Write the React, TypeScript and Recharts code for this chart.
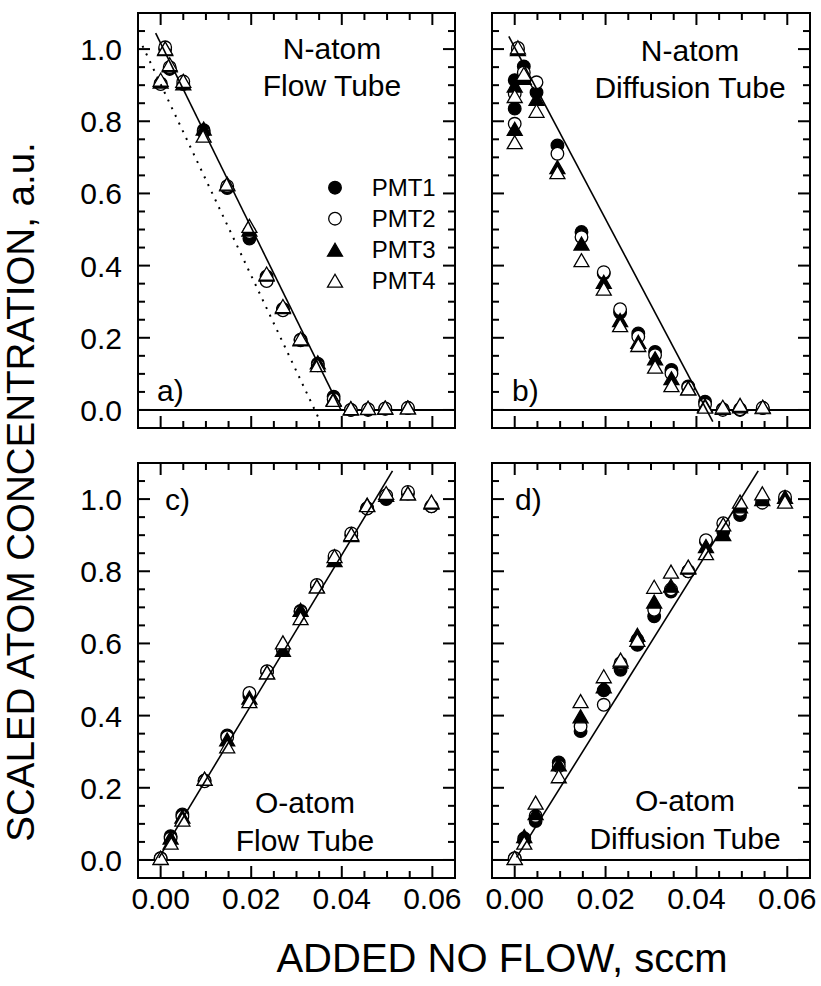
import React from 'react'
import { ScatterChart, Scatter, XAxis, YAxis, ReferenceLine, Legend } from 'recharts'

const FONT = '"Liberation Sans", Arial, Helvetica, sans-serif'

// axis setup shared by all four panels
const X_DOMAIN = [-0.005, 0.065]
const Y_DOMAIN = [-0.05, 1.1]
const X_TICKS = [0, 0.005, 0.01, 0.015, 0.02, 0.025, 0.03, 0.035, 0.04, 0.045, 0.05, 0.055, 0.06]
const Y_TICKS = [
  0, 0.05, 0.1, 0.15, 0.2, 0.25, 0.3, 0.35, 0.4, 0.45, 0.5,
  0.55, 0.6, 0.65, 0.7, 0.75, 0.8, 0.85, 0.9, 0.95, 1.0, 1.05,
]

const PMT_NAMES = ['PMT1', 'PMT2', 'PMT3', 'PMT4']

// a) N-atom, flow tube
const A_X = [0, 0.001, 0.002, 0.005, 0.0095, 0.0147, 0.0196, 0.0234, 0.027, 0.0309, 0.0347, 0.0382, 0.042, 0.0458, 0.0496, 0.0546]
const A_PMT1 = [0.905, 1.0, 0.945, 0.903, 0.775, 0.615, 0.475, 0.37, 0.28, 0.195, 0.128, 0.037, 0.0, 0.0, 0.003, 0.005]
const A_PMT2 = [0.903, 1.005, 0.95, 0.91, 0.77, 0.62, 0.493, 0.357, 0.276, 0.193, 0.124, 0.03, 0.0, 0.002, 0.004, 0.006]
const A_PMT3 = [0.91, 1.0, 0.955, 0.905, 0.78, 0.625, 0.5, 0.375, 0.285, 0.196, 0.132, 0.03, 0.004, 0.005, 0.006, 0.007]
const A_PMT4 = [0.915, 1.002, 0.958, 0.912, 0.76, 0.627, 0.51, 0.378, 0.288, 0.198, 0.124, 0.028, 0.005, 0.006, 0.007, 0.007]
const A_FIT = [{ x: -0.0011, y: 1.044 }, { x: 0.0398, y: 0 }]
const A_FIT_DOTTED = [{ x: -0.004, y: 1.009 }, { x: 0.0349, y: -0.023 }]

// b) N-atom, diffusion tube
const B_X = [0.0007, 0.002, 0, 0, 0.0048, 0.0094, 0.0147, 0.0196, 0.0232, 0.0272, 0.0309, 0.0345, 0.0382, 0.0419, 0.0458, 0.0496, 0.0546]
const B_PMT1 = [1.0, 0.952, 0.914, 0.835, 0.88, 0.733, 0.493, 0.378, 0.27, 0.212, 0.161, 0.111, 0.065, 0.023, 0.002, 0.0, 0.005]
const B_PMT2 = [1.003, 0.935, 0.876, 0.793, 0.908, 0.71, 0.479, 0.382, 0.279, 0.203, 0.152, 0.101, 0.062, 0.015, 0.0, 0.002, 0.006]
const B_PMT3 = [1.0, 0.92, 0.899, 0.779, 0.862, 0.673, 0.461, 0.355, 0.249, 0.189, 0.143, 0.088, 0.06, 0.012, 0.006, 0.01, 0.008]
const B_PMT4 = [1.005, 0.931, 0.87, 0.742, 0.829, 0.659, 0.415, 0.336, 0.235, 0.18, 0.12, 0.069, 0.06, 0.009, 0.009, 0.014, 0.009]
const B_FIT = [{ x: -0.0013, y: 1.035 }, { x: 0.0436, y: -0.032 }]

// c) O-atom, flow tube
const C_X = [0, 0.0022, 0.0048, 0.0097, 0.0147, 0.0196, 0.0235, 0.027, 0.0309, 0.0345, 0.0384, 0.0421, 0.0456, 0.0498, 0.0546, 0.0598]
const C_PMT1 = [0.005, 0.066, 0.126, 0.22, 0.345, 0.455, 0.522, 0.582, 0.69, 0.76, 0.835, 0.9, 0.975, 1.0, 1.015, 0.98]
const C_PMT2 = [0.004, 0.06, 0.12, 0.218, 0.34, 0.463, 0.523, 0.585, 0.688, 0.762, 0.842, 0.905, 0.974, 1.01, 1.02, 0.98]
const C_PMT3 = [0.005, 0.062, 0.12, 0.225, 0.334, 0.45, 0.52, 0.582, 0.693, 0.758, 0.831, 0.9, 0.985, 1.012, 1.016, 0.99]
const C_PMT4 = [0.006, 0.048, 0.112, 0.225, 0.315, 0.44, 0.52, 0.603, 0.67, 0.758, 0.842, 0.903, 0.983, 1.017, 1.016, 0.993]
const C_FIT = [{ x: -0.0004, y: 0.006 }, { x: 0.0512, y: 1.078 }]

// d) O-atom, diffusion tube
const D_X = [0, 0.0021, 0.0046, 0.0097, 0.0145, 0.0196, 0.0233, 0.027, 0.0307, 0.0344, 0.0382, 0.0421, 0.0459, 0.0496, 0.0545, 0.0595]
const D_PMT1 = [0.005, 0.06, 0.108, 0.27, 0.357, 0.47, 0.527, 0.596, 0.675, 0.744, 0.8, 0.882, 0.91, 0.956, 0.993, 1.0]
const D_PMT2 = [0.004, 0.055, 0.122, 0.26, 0.37, 0.43, 0.545, 0.61, 0.693, 0.75, 0.8, 0.886, 0.933, 0.97, 0.99, 1.006]
const D_PMT3 = [0.005, 0.066, 0.13, 0.265, 0.398, 0.481, 0.55, 0.624, 0.716, 0.76, 0.81, 0.87, 0.903, 0.98, 1.0, 1.006]
const D_PMT4 = [0.006, 0.048, 0.159, 0.232, 0.44, 0.509, 0.555, 0.61, 0.757, 0.799, 0.813, 0.85, 0.93, 0.993, 1.016, 0.993]
const D_FIT = [{ x: 0.0004, y: 0.007 }, { x: 0.0536, y: 1.078 }]

type Pt = { x: number; y: number }
const toPoints = (xs: number[], ys: number[]): Pt[] => xs.map((x, i) => ({ x, y: ys[i] }))

// filled circle, open circle, filled triangle, open triangle
const KINDS = ['fc', 'oc', 'ft', 'ot']

function Marker({ cx, cy, kind }: { cx?: number; cy?: number; kind: string }) {
  if (cx == null || cy == null) return <g />
  const fill = kind === 'fc' || kind === 'ft' ? '#000' : '#fff'
  if (kind === 'fc' || kind === 'oc') {
    return <circle cx={cx} cy={cy} r={6.3} fill={fill} stroke="#000" strokeWidth={1.3} />
  }
  const h = 6.5
  const w = 7.5
  return (
    <polygon
      points={`${cx},${cy - h} ${cx - w},${cy + h} ${cx + w},${cy + h}`}
      fill={fill}
      stroke="#000"
      strokeWidth={1.3}
    />
  )
}

const nearMultiple = (v: number, step: number) => Math.abs(v / step - Math.round(v / step)) < 1e-6
const isMajorX = (v: number) => nearMultiple(v, 0.02)
const isMajorY = (v: number) => nearMultiple(v, 0.2)

const PLOT_H = 415
const MINOR = 7
const MAJOR = 12

// tick positions on the four frame edges, as points the chart places with its own scales
type TickPt = Pt & { side: 'b' | 't' | 'l' | 'r'; major: boolean }
const TICK_POINTS: TickPt[] = [
  ...X_TICKS.map((v) => ({ x: v, y: Y_DOMAIN[0], side: 'b' as const, major: isMajorX(v) })),
  ...X_TICKS.map((v) => ({ x: v, y: Y_DOMAIN[1], side: 't' as const, major: isMajorX(v) })),
  ...Y_TICKS.map((v) => ({ x: X_DOMAIN[0], y: v, side: 'l' as const, major: isMajorY(v) })),
  ...Y_TICKS.map((v) => ({ x: X_DOMAIN[1], y: v, side: 'r' as const, major: isMajorY(v) })),
]

function TickMark(s: any) {
  const { cx, cy, payload } = s
  if (cx == null || cy == null || !payload) return <g />
  const len = payload.major ? MAJOR : MINOR
  let x2 = cx
  let y2 = cy
  if (payload.side === 'b') y2 = cy - len
  else if (payload.side === 't') y2 = cy + len
  else if (payload.side === 'l') x2 = cx + len
  else x2 = cx - len
  return <path d={`M${cx},${cy}L${x2},${y2}`} stroke="#000" strokeWidth={2} fill="none" />
}

// tick labels only; the marks are drawn by the tick-point series
function makeLabel(side: 'bottom' | 'left', show: boolean) {
  return (props: any) => {
    const { x, y, payload } = props
    const v = payload.value as number
    if (!show) return <g />
    if (side === 'bottom') {
      if (!isMajorX(v)) return <g />
      return (
        <text x={x} y={y + 31} textAnchor="middle" fontSize={30} fontFamily={FONT} fill="#000">
          {v.toFixed(2)}
        </text>
      )
    }
    if (!isMajorY(v)) return <g />
    return (
      <text x={x - 16} y={y + 11} textAnchor="end" fontSize={30} fontFamily={FONT} fill="#000">
        {v.toFixed(1)}
      </text>
    )
  }
}

function LegendBox() {
  return (
    <svg width={140} height={130}>
      {PMT_NAMES.map((name, i) => (
        <g key={name}>
          <Marker cx={17} cy={17.7 + i * 31} kind={KINDS[i]} />
          <text x={53.7} y={26 + i * 31} fontSize={24} fontFamily={FONT} fill="#000">
            {name}
          </text>
        </g>
      ))}
    </svg>
  )
}

interface PanelProps {
  left: number
  top: number
  width: number
  height: number
  yAxisWidth: number
  rightWidth: number
  xLabels: boolean
  yLabels: boolean
  series: Pt[][]
  fit: Pt[]
  dotted?: Pt[]
  legend?: boolean
}

function Panel(p: PanelProps) {
  const ink = { xAxisId: 'b', yAxisId: 'l', stroke: '#000', strokeWidth: 2 }
  const [x0, x1] = X_DOMAIN
  const [y0, y1] = Y_DOMAIN
  return (
    <div style={{ position: 'absolute', left: p.left, top: p.top }}>
      <ScatterChart width={p.width} height={p.height} margin={{ top: 13, right: p.rightWidth, bottom: 0, left: 0 }}>
        <XAxis
          xAxisId="b"
          dataKey="x"
          type="number"
          domain={X_DOMAIN}
          allowDataOverflow
          ticks={X_TICKS}
          interval={0}
          tickSize={0}
          tickMargin={0}
          height={p.height - 13 - PLOT_H}
          axisLine={false}
          tickLine={false}
          tick={makeLabel('bottom', p.xLabels)}
        />
        <YAxis
          yAxisId="l"
          dataKey="y"
          type="number"
          domain={Y_DOMAIN}
          allowDataOverflow
          ticks={Y_TICKS}
          interval={0}
          tickSize={0}
          tickMargin={0}
          width={p.yAxisWidth}
          axisLine={false}
          tickLine={false}
          tick={makeLabel('left', p.yLabels)}
        />
        {/* frame */}
        <ReferenceLine {...ink} x={x0} strokeLinecap="square" />
        <ReferenceLine {...ink} x={x1} strokeLinecap="square" />
        <ReferenceLine {...ink} y={y0} strokeLinecap="square" />
        <ReferenceLine {...ink} y={y1} strokeLinecap="square" />
        <ReferenceLine {...ink} y={0} />
        {/* inward tick marks on all four sides */}
        <Scatter
          xAxisId="b"
          yAxisId="l"
          data={TICK_POINTS}
          legendType="none"
          isAnimationActive={false}
          shape={TickMark}
        />
        {p.series.map((pts, i) => (
          <Scatter
            key={PMT_NAMES[i]}
            name={PMT_NAMES[i]}
            xAxisId="b"
            yAxisId="l"
            data={pts}
            isAnimationActive={false}
            shape={(s: any) => <Marker cx={s.cx} cy={s.cy} kind={KINDS[i]} />}
          />
        ))}
        {p.dotted && (
          <Scatter
            xAxisId="b"
            yAxisId="l"
            data={p.dotted}
            legendType="none"
            isAnimationActive={false}
            line={{ stroke: '#000', strokeWidth: 2, strokeDasharray: '2 6.5' }}
            shape={() => <g />}
          />
        )}
        <Scatter
          xAxisId="b"
          yAxisId="l"
          data={p.fit}
          legendType="none"
          isAnimationActive={false}
          line={{ stroke: '#000', strokeWidth: 1.6 }}
          shape={() => <g />}
        />
        {p.legend && (
          <Legend
            layout="vertical"
            align="center"
            verticalAlign="middle"
            wrapperStyle={{ position: 'absolute', left: 318, top: 170, width: 140, height: 130 }}
            content={() => <LegendBox />}
          />
        )}
      </ScatterChart>
    </div>
  )
}

const txt = { fontFamily: FONT, fill: '#000' }

export default function App() {
  return (
    <div style={{ position: 'absolute', left: 0, top: 0, width: 821, height: 986, background: '#fff' }}>
      <Panel
        left={0} top={0} width={470} height={450} yAxisWidth={138} rightWidth={15}
        xLabels={false} yLabels={true}
        series={[toPoints(A_X, A_PMT1), toPoints(A_X, A_PMT2), toPoints(A_X, A_PMT3), toPoints(A_X, A_PMT4)]}
        fit={A_FIT} dotted={A_FIT_DOTTED} legend
      />
      <Panel
        left={475} top={0} width={346} height={450} yAxisWidth={17} rightWidth={11}
        xLabels={false} yLabels={false}
        series={[toPoints(B_X, B_PMT1), toPoints(B_X, B_PMT2), toPoints(B_X, B_PMT3), toPoints(B_X, B_PMT4)]}
        fit={B_FIT}
      />
      <Panel
        left={0} top={450} width={470} height={536} yAxisWidth={138} rightWidth={15}
        xLabels={true} yLabels={true}
        series={[toPoints(C_X, C_PMT1), toPoints(C_X, C_PMT2), toPoints(C_X, C_PMT3), toPoints(C_X, C_PMT4)]}
        fit={C_FIT}
      />
      <Panel
        left={475} top={450} width={346} height={536} yAxisWidth={17} rightWidth={11}
        xLabels={true} yLabels={false}
        series={[toPoints(D_X, D_PMT1), toPoints(D_X, D_PMT2), toPoints(D_X, D_PMT3), toPoints(D_X, D_PMT4)]}
        fit={D_FIT}
      />
      <svg
        width={821}
        height={986}
        style={{ position: 'absolute', left: 0, top: 0, pointerEvents: 'none' }}
      >
        <g {...txt} fontSize={30} textAnchor="middle">
          <text x={332} y={59}>N-atom</text>
          <text x={332} y={96}>Flow Tube</text>
          <text x={690} y={61}>N-atom</text>
          <text x={690} y={97.5}>Diffusion Tube</text>
          <text x={305} y={812.5}>O-atom</text>
          <text x={305} y={851}>Flow Tube</text>
          <text x={685} y={811}>O-atom</text>
          <text x={685} y={849}>Diffusion Tube</text>
        </g>
        <g {...txt} fontSize={30}>
          <text x={157} y={401}>a)</text>
          <text x={512} y={401}>b)</text>
          <text x={165} y={510}>c)</text>
          <text x={515} y={510}>d)</text>
        </g>
        <text {...txt} x={502} y={972} fontSize={40} textAnchor="middle">
          ADDED NO FLOW, sccm
        </text>
        <text {...txt} transform="translate(34,492) rotate(-90)" fontSize={38.5} textAnchor="middle">
          SCALED ATOM CONCENTRATION, a.u.
        </text>
      </svg>
    </div>
  )
}
